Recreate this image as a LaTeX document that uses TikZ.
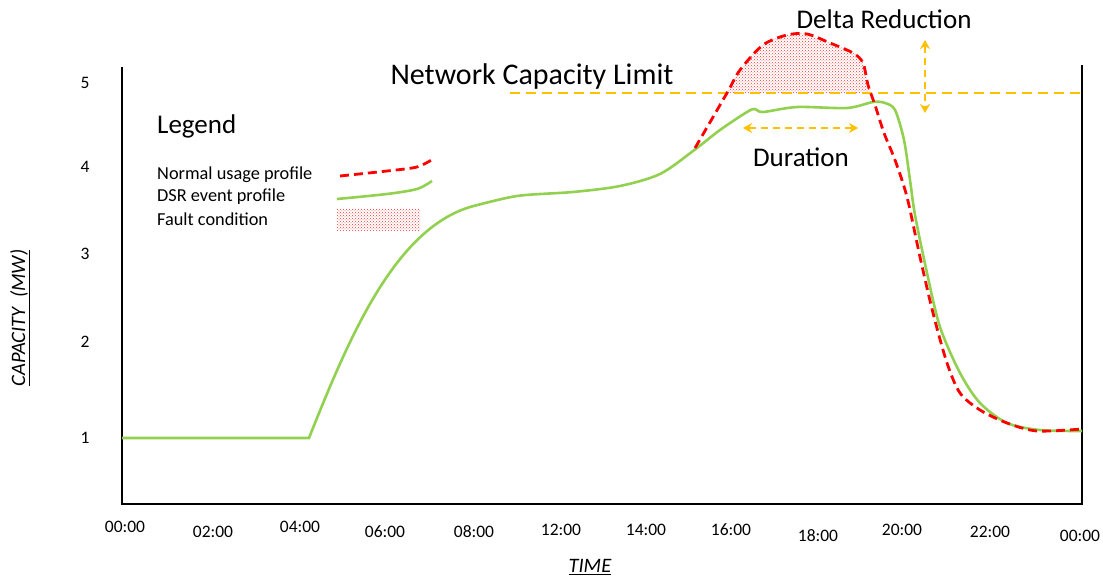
\documentclass[tikz,border=0pt]{standalone}
\usepackage{fontspec}
\setmainfont{Carlito}
\usetikzlibrary{patterns,arrows.meta}
\definecolor{mygreen}{RGB}{146,208,80}
\definecolor{myred}{RGB}{255,0,0}
\definecolor{myorange}{RGB}{255,192,0}
\newcommand{\hugetext}{\fontsize{30}{36}\selectfont}
\newcommand{\bigtext}{\fontsize{27}{32}\selectfont}
\newcommand{\smalltext}{\fontsize{18.3}{22}\selectfont}
\newcommand{\ticktext}{\fontsize{17.5}{21}\selectfont}
\newcommand{\titletext}{\fontsize{20.5}{24}\selectfont}
\tikzset{
    axisline/.style={black, line width=2.6pt},
    normal/.style={myred, line width=2.8pt, dash pattern=on 9pt off 5pt},
    dsr/.style={mygreen, line width=2.6pt},
    limit/.style={myorange, line width=1.8pt, dash pattern=on 10pt off 6pt},
    marker/.style={myorange, line width=1.8pt, dash pattern=on 7pt off 5pt,
        {Stealth[length=9pt,width=10pt]}-{Stealth[length=9pt,width=10pt]}},
    fault/.style={pattern=crosshatch dots, pattern color=myred!80},
    tick/.style={font=\ticktext, inner sep=0pt},
    title/.style={font=\titletext, inner sep=0pt},
    label/.style={font=\bigtext, inner sep=0pt},
    legenditem/.style={font=\smalltext, inner sep=0pt, anchor=west}
}

\begin{document}
\begin{tikzpicture}[x=1pt, y=-1pt]
    \useasboundingbox (0,0) rectangle (1103,577);

    % fault area above the limit
    \fill[fault] plot[smooth] coordinates {(727,93) (740,70) (763,45) (787,35) (807,34) (830,43) (853,53) (863,63) (868,85) (871,93)} -- cycle;

    % axes
    \draw[axisline] (122,67) -- (122,504) -- (1082,504) -- (1082,65);

    % capacity limit
    \node[label, font=\hugetext] (limittext) at (532,77) {Network Capacity Limit};
    \coordinate (limitA) at (510,93);
    \coordinate (limitB) at (1082,93);
    \draw[limit] (limitA) -- (limitB);

    % curves
    \draw[dsr] (122,438) -- (309,438)
        .. controls (350,335) and (395,230) .. (470,207)
        plot[smooth, tension=0.5] coordinates {(470,207) (517,196) (573,192) (620,186) (660,174) (693,151) (720,130) (747,112) (755,109) (763,112) (797,107) (847,108) (873,102) (885,103) (895,110) (904,140) (910,180) (915,215) (927,273) (940,327) (960,373) (980,403) (1007,423) (1040,430) (1082,431)};
    \draw[normal] plot[smooth, tension=0.5] coordinates {(695,148) (727,93) (740,70) (763,45) (787,35) (807,34) (830,43) (853,53) (863,63) (868,85) (875,105) (884,133) (895,160) (907,197) (920,257) (933,313) (947,363) (960,393) (980,410) (1007,423) (1037,431) (1082,429)};

    % markers
    \node[label] (delta) at (884,19) {Delta Reduction};
    \coordinate (deltaA) at (925,40);
    \coordinate (deltaB) at (925,113);
    \draw[marker] (deltaA) -- (deltaB);
    \node[label] (duration) at (801,157) {Duration};
    \coordinate (durA) at (743,128);
    \coordinate (durB) at (858,128);
    \draw[marker] (durA) -- (durB);

    % legend
    \node[label, anchor=west] (legend) at (157,126) {Legend};
    \node[legenditem] (itemA) at (157,175) {Normal usage profile};
    \node[legenditem] (itemB) at (157,197) {DSR event profile};
    \node[legenditem] (itemC) at (157,219) {Fault condition};
    \draw[normal] plot[smooth] coordinates {(340,176) (387,171) (417,167) (433,159)};
    \draw[dsr] plot[smooth] coordinates {(337,199) (387,194) (417,189) (432,181)};
    \fill[fault] (337,209) rectangle (420,231);

    % ticks
    \foreach \y/\val in {83/5, 167/4, 254/3, 342/2, 438/1}
        \node[tick] (y\val) at (85,\y) {\val};
    \foreach \x/\y/\t [count=\i] in {125/527/00:00, 213/532/02:00, 300/527/04:00, 385/532/06:00, 474/532/08:00, 561/530/12:00, 646/530/14:00, 731/530/16:00, 818/536/18:00, 902/530/20:00, 990/532/22:00, 1080/536/00:00}
        \node[tick] (x\i) at (\x,\y) {\t};

    % axis titles
    \node[title, rotate=90] (ytitle) at (20,318) {\underline{\textit{CAPACITY\ \ (MW)}}};
    \node[title] (xtitle) at (590,567) {\underline{\textit{TIME}}};
\end{tikzpicture}
\end{document}
